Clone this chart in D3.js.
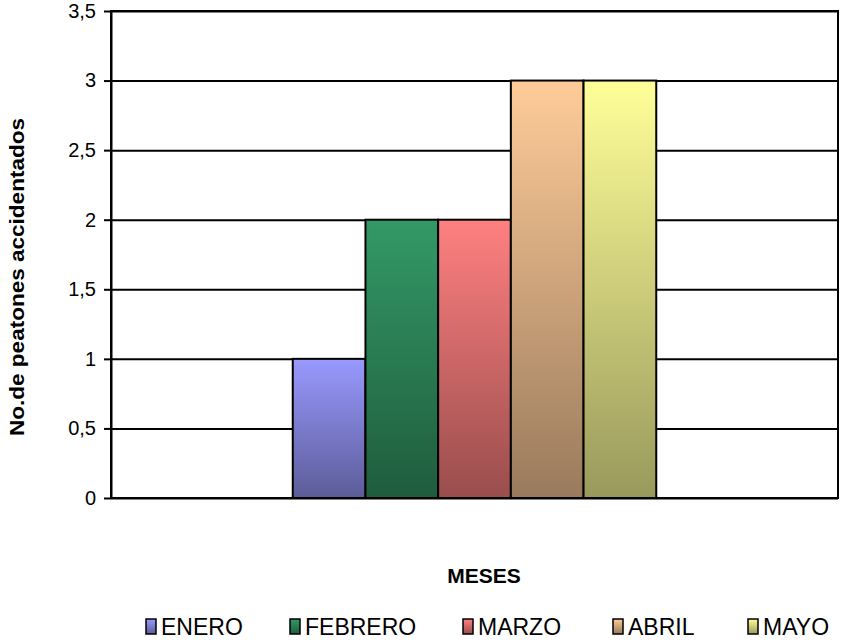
<!DOCTYPE html>
<html>
<head>
<meta charset="utf-8">
<script src="https://cdn.jsdelivr.net/npm/d3@7"></script>
<style>
  body { margin: 0; background: #fff; }
  text { font-family: "Liberation Sans", Arial, sans-serif; }
</style>
</head>
<body>
<script>
// data
var months = ["ENERO", "FEBRERO", "MARZO", "ABRIL", "MAYO"]
var peatones = [1, 2, 2, 3, 3]
var topColors = ["#9999ff", "#339966", "#ff8080", "#ffcc99", "#ffff99"]
var yTicks = [0, 0.5, 1, 1.5, 2, 2.5, 3, 3.5]

var screen = {width: 841, height: 642}
var margins = {top: 11, bottom: 144, left: 111, right: 3}
var width = screen.width - margins.left - margins.right
var height = screen.height - margins.top - margins.bottom

var svg = d3.select("body")
  .append("svg")
  .attr("width", screen.width)
  .attr("height", screen.height)

// gradients, lighter on top, darker at the bottom
var defs = svg.append("defs")
months.forEach(function(m, i) {
  var c = d3.rgb(topColors[i])
  var g = defs.append("linearGradient")
    .attr("id", "grad" + i)
    .attr("x1", 0).attr("y1", 0).attr("x2", 0).attr("y2", 1)
  g.append("stop").attr("offset", "0%").attr("stop-color", c.formatHex())
  g.append("stop").attr("offset", "100%")
    .attr("stop-color", d3.rgb(c.r * 0.6, c.g * 0.6, c.b * 0.6).formatHex())
})

var groupScale = d3.scaleBand()
  .domain([""])
  .range([0, width])
  .paddingOuter(0.5)
  .paddingInner(0)

var xScale = d3.scaleBand()
  .domain(months)
  .range([0, groupScale.bandwidth()])
  .padding(0)

var yScale = d3.scaleLinear()
  .domain([0, 3.5])
  .range([height, 0])

var plot = svg.append("g")
  .attr("transform", "translate(" + margins.left + "," + margins.top + ")")

// gridlines
plot.append("g")
  .attr("class", "grid")
  .call(d3.axisLeft(yScale).tickValues(yTicks).tickSize(-width).tickFormat(""))
  .call(function(g) { g.select(".domain").remove() })
  .selectAll("line")
  .attr("stroke", "#000")
  .attr("stroke-width", 2)

// bars
plot.append("g")
  .attr("transform", "translate(" + groupScale("") + ",0)")
  .selectAll("rect")
  .data(months)
  .enter()
  .append("rect")
  .attr("x", function(d) { return xScale(d) })
  .attr("y", function(d, i) { return yScale(peatones[i]) })
  .attr("width", xScale.bandwidth())
  .attr("height", function(d, i) { return height - yScale(peatones[i]) })
  .attr("fill", function(d, i) { return "url(#grad" + i + ")" })
  .attr("stroke", "#000")
  .attr("stroke-width", 2)

// frame of the plot area
plot.append("rect")
  .attr("width", width)
  .attr("height", height)
  .attr("fill", "none")
  .attr("stroke", "#000")
  .attr("stroke-width", 2)

// y axis
var yAxis = plot.append("g")
  .call(d3.axisLeft(yScale)
    .tickValues(yTicks)
    .tickSizeInner(7)
    .tickSizeOuter(0)
    .tickPadding(8)
    .tickFormat(function(d) { return String(d).replace(".", ",") }))
yAxis.selectAll("line").attr("stroke", "#000").attr("stroke-width", 2)
yAxis.select(".domain").attr("stroke", "#000").attr("stroke-width", 2)
yAxis.selectAll("text")
  .attr("fill", "#000")
  .style("font-size", "20px")
  .style("font-family", "'Liberation Sans', Arial, sans-serif")

// axis titles
svg.append("text")
  .attr("transform", "translate(24," + 277 + ") rotate(-90)")
  .attr("text-anchor", "middle")
  .attr("textLength", 318)
  .attr("lengthAdjust", "spacingAndGlyphs")
  .style("font-weight", "bold")
  .style("font-size", "20px")
  .text("No.de peatones accidentados")

svg.append("text")
  .attr("x", 484)
  .attr("y", 583)
  .attr("text-anchor", "middle")
  .style("font-weight", "bold")
  .style("font-size", "21px")
  .text("MESES")

// legend
var legendX = [146, 290, 463, 613, 748]
var lg = svg.append("g")
  .selectAll("g")
  .data(months)
  .enter()
  .append("g")
  .attr("transform", function(d, i) { return "translate(" + legendX[i] + ",619)" })

lg.append("rect")
  .attr("width", 10)
  .attr("height", 15)
  .attr("fill", function(d, i) { return "url(#grad" + i + ")" })
  .attr("stroke", "#000")
  .attr("stroke-width", 1.5)

lg.append("text")
  .attr("x", 15)
  .attr("y", 16)
  .style("font-size", "23px")
  .text(function(d) { return d })
</script>
</body>
</html>
